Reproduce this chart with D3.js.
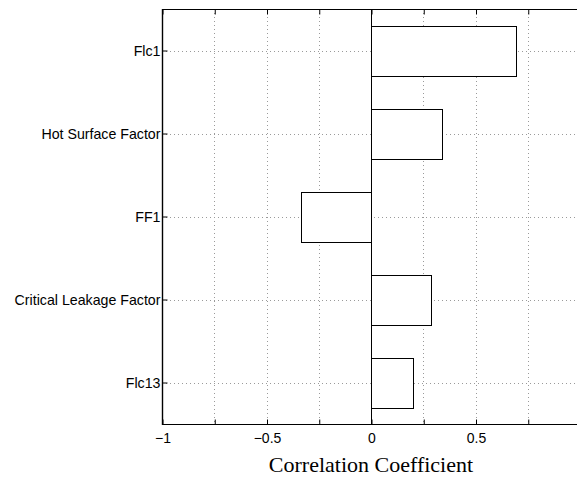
<!DOCTYPE html>
<html>
<head>
<meta charset="utf-8">
<script src="https://cdn.jsdelivr.net/npm/d3@7"></script>
<style>
  html, body { margin: 0; padding: 0; background: #fff; }
  svg { display: block; }
</style>
</head>
<body>
<svg id="chart" width="577" height="478"></svg>
<script>
// Factors, top to bottom, and their correlation coefficients
const factors = ["Flc1", "Hot Surface Factor", "FF1", "Critical Leakage Factor", "Flc13"];
const coefficients = [0.696, 0.342, -0.333, 0.287, 0.20];
const gridTicks = [-1, -0.75, -0.5, -0.25, 0, 0.25, 0.5, 0.75, 1];
const labelTicks = [-1, -0.5, 0, 0.5];
const xTitle = "Correlation Coefficient";

const svg = d3.select("#chart");
const plotLeft = 162, plotTop = 9, plotBottom = 424, plotRight = 580;

const x = d3.scaleLinear().domain([-1, 1]).range([plotLeft, plotRight]);
const y = d3.scaleBand().domain(factors).range([plotTop, plotBottom]).paddingInner(0.4).paddingOuter(0.2);

const fmt = d => (d < 0 ? "\u2212" : "") + Math.abs(d);

// dotted grid
const grid = svg.append("g").attr("stroke", "#9a9a9a").attr("stroke-width", 1)
  .attr("stroke-dasharray", "1,3");
grid.selectAll("line.v").data(gridTicks.filter(d => d > -1 && d < 1)).join("line")
  .attr("class", "v")
  .attr("x1", d => Math.round(x(d)) + 0.5).attr("x2", d => Math.round(x(d)) + 0.5)
  .attr("y1", plotTop).attr("y2", plotBottom);
grid.selectAll("line.h").data(factors).join("line")
  .attr("class", "h")
  .attr("x1", plotLeft).attr("x2", plotRight)
  .attr("y1", d => Math.round(y(d) + y.bandwidth() / 2) + 0.5)
  .attr("y2", d => Math.round(y(d) + y.bandwidth() / 2) + 0.5);

// bars
svg.append("g").selectAll("rect").data(coefficients).join("rect")
  .attr("x", d => Math.round(x(Math.min(0, d))) + 0.5)
  .attr("width", d => Math.round(Math.abs(x(d) - x(0))))
  .attr("y", (d, i) => Math.round(y(factors[i])) + 0.5)
  .attr("height", Math.round(y.bandwidth()))
  .attr("fill", "#fff").attr("stroke", "#000").attr("stroke-width", 1);

// zero line
svg.append("line")
  .attr("x1", Math.round(x(0)) + 0.5).attr("x2", Math.round(x(0)) + 0.5)
  .attr("y1", plotTop).attr("y2", plotBottom)
  .attr("stroke", "#000").attr("stroke-width", 1);

// frame
svg.append("line").attr("x1", plotLeft).attr("x2", plotRight).attr("y1", plotTop + 0.5).attr("y2", plotTop + 0.5)
  .attr("stroke", "#000").attr("stroke-width", 1.2);
svg.append("line").attr("x1", plotLeft).attr("x2", plotRight).attr("y1", plotBottom + 0.5).attr("y2", plotBottom + 0.5)
  .attr("stroke", "#000").attr("stroke-width", 1.2);
svg.append("line").attr("x1", plotLeft + 0.5).attr("x2", plotLeft + 0.5).attr("y1", plotTop).attr("y2", plotBottom + 1)
  .attr("stroke", "#000").attr("stroke-width", 1.4);

// bottom axis
const xAxis = d3.axisBottom(x).tickValues(gridTicks).tickSizeInner(-5).tickSizeOuter(0)
  .tickFormat(d => labelTicks.includes(d) ? fmt(d) : "").tickPadding(9);
const gx = svg.append("g").attr("transform", `translate(0.5,${plotBottom + 0.5})`).call(xAxis);
gx.select(".domain").remove();
gx.selectAll("text").attr("font-family", "Liberation Sans, Arial, sans-serif")
  .attr("font-size", 14).attr("fill", "#000");

// top ticks
const xTop = d3.axisTop(x).tickValues(gridTicks).tickSizeInner(-5).tickSizeOuter(0).tickFormat("");
const gt = svg.append("g").attr("transform", `translate(0.5,${plotTop + 0.5})`).call(xTop);
gt.select(".domain").remove();

// left axis
const yAxis = d3.axisLeft(y).tickSizeInner(-5).tickSizeOuter(0).tickPadding(2);
const gy = svg.append("g").attr("transform", `translate(${plotLeft + 0.5},0.5)`).call(yAxis);
gy.select(".domain").remove();
gy.selectAll("text").attr("font-family", "Liberation Sans, Arial, sans-serif")
  .attr("font-size", 14.2).attr("fill", "#000");

// x-axis title
svg.append("text").attr("x", x(0)).attr("y", 472).attr("text-anchor", "middle")
  .attr("font-family", "Liberation Serif, Times New Roman, serif").attr("font-size", 22)
  .attr("fill", "#000").text(xTitle);
</script>
</body>
</html>
